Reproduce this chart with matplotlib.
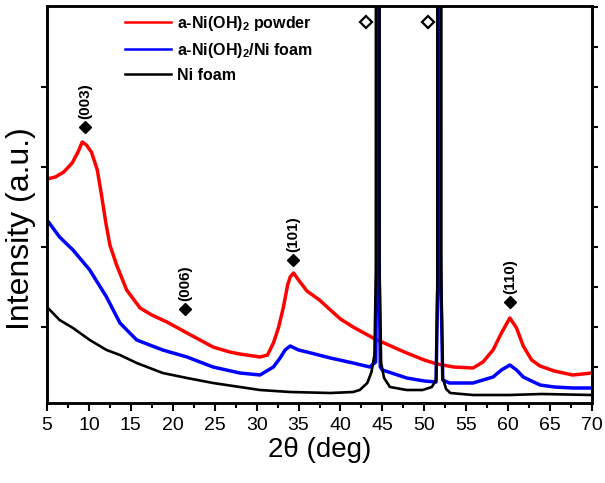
import matplotlib
matplotlib.use("Agg")
import matplotlib.pyplot as plt
from matplotlib.ticker import MultipleLocator, FixedLocator

plt.rcParams['font.family'] = ['Liberation Sans', 'DejaVu Sans']
plt.rcParams['mathtext.fontset'] = 'custom'
plt.rcParams['mathtext.rm'] = 'Liberation Sans'
plt.rcParams['mathtext.bf'] = 'Liberation Sans:bold'

# ---- data (arbitrary intensity units) ----
powder_x = [5, 6, 7, 8, 8.7, 9.2, 9.7, 10.3, 11, 11.5, 12, 12.5, 13.3, 14.5, 16.1, 17.5,
            19.3, 21.7, 24.8, 26.8, 28, 30.4, 31.3, 32, 32.6, 33.2, 33.7, 34, 34.4, 35,
            36, 37.5, 38.8, 40, 41.5, 43.9, 46, 47.9, 50, 51.5, 53.5, 55.8, 57, 58.2,
            59.2, 60.2, 61, 61.8, 62.8, 63.8, 65.5, 67.7, 70]
powder_y = [224, 226, 231, 240, 251, 261, 258, 251, 233, 208, 181, 158, 138, 113, 95, 88,
            81, 70, 56, 51, 49, 46, 48, 60, 75, 96, 118, 126, 130, 123,
            112, 103, 93, 84, 76, 65, 57, 50, 43, 39, 36, 35, 41, 53,
            70, 85, 75, 57, 43, 37, 32, 28, 30]

onfoam_x = [5, 6.5, 8.1, 10.1, 12.1, 13.7, 15.7, 18.8, 21.7, 24.8, 28, 30.4, 32, 32.8,
            33.4, 34, 34.5, 35, 36, 38.8, 41.5, 43.5, 44.2, 44.34, 44.4, 44.54, 44.6,
            44.75, 45.0, 47.9, 50, 51.4, 51.68, 51.73, 51.87, 51.92, 52.2, 53, 55.8,
            57, 58.2, 59.2, 60.2, 61, 61.8, 63.8, 65.5, 67.7, 70]
onfoam_y = [183, 166, 153, 133, 106, 80, 63, 53, 46, 36, 30, 28, 36, 45,
            53, 57, 55, 53, 51, 45, 40, 36, 41, 150, 4000, 4000, 150,
            36, 33, 25, 22, 21, 150, 4000, 4000, 150, 23, 20, 20,
            23, 26, 33, 38, 33, 26, 18, 16, 15, 15]

nifoam_x = [5, 6.5, 8.1, 10.1, 12.1, 13.7, 15.7, 18.8, 21.7, 24.8, 28, 30.4, 34, 38.8,
            41.5, 42.3, 43.2, 43.7, 44.05, 44.22, 44.29, 44.58, 44.66, 44.85, 45.2, 45.9,
            47.9, 49.8, 50.9, 51.4, 51.55, 51.62, 51.96, 52.03, 52.2, 52.6, 53.1, 55.8,
            60.2, 64, 70]
nifoam_y = [96, 83, 75, 63, 53, 48, 40, 30, 25, 20, 16, 13, 11, 10,
            11, 13, 20, 31, 48, 130, 4000, 4000, 130, 40, 25, 16,
            13, 13, 16, 23, 120, 4000, 4000, 120, 25, 14, 10, 8,
            8, 9, 8]

series_labels = [r'a-Ni(OH)$_\mathbf{2}$ powder', r'a-Ni(OH)$_\mathbf{2}$/Ni foam', 'Ni foam']
series_colors = ['#ff0000', '#0000ff', '#000000']

peak_labels = ['(003)', '(006)', '(101)', '(110)']
peak_x = [9.55, 21.45, 34.35, 60.2]
peak_y = [276, 94, 143, 101]
ni_x = [43.0, 50.45]
ni_y = [381, 381]

xticks = [5, 10, 15, 20, 25, 30, 35, 40, 45, 50, 55, 60, 65, 70]

# ---- figure ----
fig = plt.figure(figsize=(6.05, 4.83), dpi=100)
ax = fig.add_axes([47 / 605, 1 - 403 / 483, 545 / 605, 397 / 483])

ax.plot(powder_x, powder_y, color=series_colors[0], lw=2.5, label=series_labels[0])
ax.plot(onfoam_x, onfoam_y, color=series_colors[1], lw=2.5, label=series_labels[1])
ax.plot(nifoam_x, nifoam_y, color=series_colors[2], lw=1.9, label=series_labels[2])

ax.plot(peak_x, peak_y, linestyle='none', marker='D', ms=6, color='black')
for lab, px, py in zip(peak_labels, peak_x, peak_y):
    ax.annotate(lab, (px, py), xytext=(0, 6), textcoords='offset points',
                rotation=90, ha='center', va='bottom', fontsize=11, fontweight='bold')
ax.plot(ni_x, ni_y, linestyle='none', marker='D', ms=6, mfc='white', mec='black', mew=1.6)

ax.set_xlim(5, 70)
ax.set_ylim(0, 397)
ax.xaxis.set_major_locator(FixedLocator(xticks))
ax.xaxis.set_minor_locator(MultipleLocator(2.5))
ax.set_yticks([76, 156, 236, 316])
ax.set_yticklabels([])
ax.tick_params(axis='x', which='major', direction='out', length=6, width=1.5, labelsize=14, pad=4)
ax.tick_params(axis='x', which='minor', direction='out', length=3.5, width=1.5)
ax.tick_params(axis='y', which='major', direction='out', length=4, width=1.5, left=True)

ax2 = ax.twinx()
ax2.set_ylim(0, 397)
ax2.set_yticks([36 + 40 * k for k in range(10)])
ax2.set_yticklabels([])
ax2.tick_params(axis='y', direction='out', length=4, width=1.5)

for a in (ax, ax2):
    for s in a.spines.values():
        s.set_linewidth(1.8)

ax.set_xlabel('2θ (deg)', fontsize=20, labelpad=2)
ax.set_ylabel('Intensity (a.u.)', fontsize=23)
ax.yaxis.set_label_coords(-0.02, 0.44)

leg = ax.legend(loc='upper left', bbox_to_anchor=(0.116, 1.016), frameon=False,
                handlelength=2.9, handletextpad=0.4, labelspacing=0.5,
                prop={'family': 'Liberation Sans', 'weight': 'bold', 'size': 11.5})
for line in leg.get_lines():
    line.set_linewidth(1.8)

fig.savefig('out.png', dpi=100)
